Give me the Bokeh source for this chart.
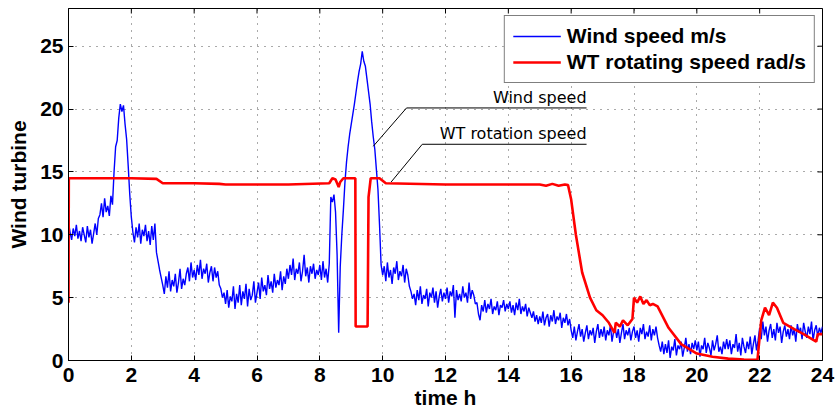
from bokeh.plotting import figure
from bokeh.models import Range1d, Legend, LegendItem, FixedTicker, Label
from bokeh.embed import file_html
from bokeh.resources import INLINE
import numpy as np

# ---------------- data ----------------
# wind speed sampled every 0.05 h, 0 .. 24 h
wind_speed = [
    11.0, 10.2, 9.6, 10.5, 9.9, 10.8, 9.7, 10.3, 9.5, 10.6, 10.0, 9.4, 10.7, 9.8, 10.4, 9.3, 10.1, 10.9, 10.0, 11.3,
    11.6, 12.5, 11.4, 12.9, 11.8, 12.3, 11.5, 13.1, 12.4, 15.0, 17.0, 17.5, 19.3, 20.4, 19.8, 20.3, 18.8, 17.6, 15.5, 13.2,
    11.4, 10.2, 9.4, 10.6, 9.8, 10.9, 9.3, 10.4, 9.9, 10.8, 9.5, 10.3, 9.2, 10.7, 9.6, 10.9, 8.6, 7.9, 7.2, 6.6,
    6.0, 5.3, 6.7, 5.8, 7.1, 5.5, 6.4, 5.9, 6.9, 5.4, 6.2, 7.3, 5.7, 6.5, 6.0, 6.9, 7.4, 6.3, 7.8, 6.6,
    7.2, 6.4, 7.6, 6.8, 8.0, 6.5, 7.3, 6.9, 7.7, 6.2, 7.0, 7.5, 6.3, 7.4, 6.6, 7.1, 6.0, 5.7, 5.0, 5.4,
    4.5, 5.6, 4.2, 5.1, 4.7, 5.9, 4.1, 5.3, 4.6, 6.0, 4.4, 5.5, 4.9, 6.1, 4.3, 5.7, 4.8, 5.2, 6.3, 4.6,
    5.4, 6.2, 4.9, 6.6, 5.5, 6.0, 5.2, 6.8, 5.7, 6.3, 5.4, 6.9, 5.8, 6.4, 6.0, 7.1, 5.6, 6.7, 6.1, 7.3,
    6.5, 7.6, 6.8, 8.1, 6.4, 7.3, 6.9, 7.8, 6.3, 7.1, 8.4, 6.7, 7.4, 6.2, 7.5, 6.9, 7.7, 6.5, 7.2, 6.8,
    7.6, 6.4, 7.9, 6.6, 7.3, 6.2, 7.7, 13.0, 12.6, 13.2, 11.8, 8.4, 2.2, 7.5, 10.0, 12.0, 14.2, 15.8, 17.0, 18.0,
    18.8, 19.6, 20.4, 21.3, 22.2, 23.0, 23.6, 24.6, 23.8, 23.4, 22.4, 21.4, 20.4, 19.0, 17.8, 16.8, 15.2, 13.6, 10.8, 7.6,
    6.8, 7.5, 6.3, 7.8, 6.6, 7.2, 6.1, 7.4, 6.9, 7.9, 6.4, 7.1, 6.7, 7.6, 6.2, 7.3, 6.8, 5.9, 5.5, 4.9,
    5.3, 4.4, 5.6, 4.8, 5.9, 4.5, 5.2, 4.9, 5.7, 4.3, 5.4, 5.0, 5.8, 4.6, 5.5, 4.2, 5.1, 5.7, 4.7, 5.4,
    4.9, 5.8, 4.6, 5.5, 5.1, 6.0, 3.4, 5.6, 4.8, 5.3, 4.7, 5.9, 5.0, 5.4, 4.6, 6.2, 4.9, 5.6, 5.2, 4.5,
    4.6, 3.7, 3.2, 4.4, 3.9, 4.8, 3.8, 4.5, 4.1, 4.9, 3.7, 4.3, 4.0, 4.7, 3.6, 4.4, 4.2, 4.8, 3.9, 4.5,
    4.1, 4.7, 3.8, 4.4, 3.6, 4.6, 4.0, 4.9, 3.7, 4.3, 3.9, 4.5, 3.5, 4.2, 3.8, 3.4, 3.9, 3.1, 3.6, 2.9,
    3.5, 3.0, 3.9, 2.8, 3.4, 3.7, 2.7, 3.6, 3.1, 4.0, 2.9, 3.5, 3.2, 3.8, 2.6, 3.4, 3.0, 3.7, 2.8, 3.3,
    2.4, 1.8, 2.7, 1.6, 2.3, 2.9, 1.9, 2.5, 1.5, 2.2, 2.8, 1.7, 2.4, 2.0, 2.6, 1.4, 2.3, 2.9, 1.8, 2.5,
    1.9, 2.7, 1.6, 2.4, 2.0, 2.8, 1.5, 2.3, 2.6, 1.8, 2.5, 1.4, 2.2, 2.9, 1.7, 2.4, 2.0, 2.6, 1.6, 2.3,
    2.7, 1.8, 2.4, 1.5, 2.6, 2.1, 2.9, 1.7, 2.3, 1.9, 2.8, 1.6, 2.5, 2.0, 2.7, 1.8, 1.2, 0.7, 1.5, 0.5,
    1.3, 0.6, 1.6, 0.2, 1.1, 0.8, 1.7, 0.4, 1.2, 0.9, 1.5, 0.3, 1.0, 1.8, 0.7, 1.3, 0.5, 1.4, 0.9, 1.6,
    0.8, 1.5, 0.3, 1.2, 0.9, 1.8, 0.6, 1.4, 1.0, 0.4, 1.6, 0.8, 1.3, 2.0, 0.7, 1.1, 0.5, 1.5, 0.9, 1.7,
    0.9, 1.6, 0.5, 1.3, 1.0, 2.1, 0.7, 1.4, 0.4, 1.8, 1.1, 0.6, 1.5, 0.9, 1.9, 0.5, 1.3, 2.0, 0.8, 1.6,
    2.6, 1.7, 3.1, 2.0, 2.7, 1.5, 2.4, 2.9, 1.8, 2.5, 1.6, 3.0, 2.2, 2.7, 1.4, 2.3, 2.8, 1.9, 2.5, 1.7,
    2.8, 2.0, 2.5, 1.5, 2.9, 2.2, 2.6, 1.7, 3.0, 2.3, 1.8, 2.7, 2.1, 3.1, 1.6, 2.4, 2.8, 1.9, 2.6, 2.2,
    2.7,
]
wind_hours = np.arange(len(wind_speed)) * 0.05

rot_hours = [0.0, 0.01, 1.0, 2.0, 2.8, 3.0, 4.0, 4.8, 5.0, 6.0, 7.0, 8.3, 8.4, 8.5,
             8.6, 8.65, 8.75, 9.13, 9.14, 9.52, 9.55, 9.62, 9.9, 10.1, 12.0, 15.0,
             15.2, 15.4, 15.6, 15.8, 15.9, 16.0, 16.15, 16.35, 16.6, 16.8,
             17.0, 17.2, 17.38, 17.42, 17.55, 17.65, 17.8, 17.95, 18.0, 18.1, 18.2,
             18.3, 18.4, 18.5, 18.6, 18.75, 19.1, 19.5, 20.0, 20.5, 21.0, 21.5, 21.93,
             22.05, 22.17, 22.3, 22.42, 22.55, 22.75, 23.1, 23.4, 23.8, 23.85, 24.0]
rot_speed = [4.6, 14.5, 14.5, 14.5, 14.45, 14.1, 14.1, 14.05, 14.0, 14.0, 14.0, 14.1,
             14.5, 14.4, 13.8, 14.2, 14.5, 14.5, 2.7, 2.7, 13.0, 14.5, 14.5, 14.1,
             14.0, 14.0, 13.9, 14.05, 13.9, 14.0, 13.95, 12.8, 10.0, 7.0, 5.0,
             4.0, 3.6, 3.0, 2.2, 3.0, 2.7, 3.2, 2.8, 3.3, 5.0, 4.6, 5.1, 4.5, 4.8,
             4.4, 4.5, 4.3, 2.6, 1.3, 0.55, 0.3, 0.15, 0.08, 0.05, 3.2, 4.2, 3.6,
             4.6, 4.2, 3.0, 2.5, 2.1, 1.5, 2.1, 2.1]

x_ticks = [0, 2, 4, 6, 8, 10, 12, 14, 16, 18, 20, 22, 24]
y_ticks = [0, 5, 10, 15, 20, 25]
x_max, y_max = 24, 28

# annotation callouts
ann_labels = ["Wind speed", "WT rotation speed"]
ann_x = [[9.70, 10.76, 16.49], [10.27, 11.26, 16.49]]
ann_y = [[17.04, 20.09, 20.09], [14.2, 17.2, 17.2]]
ann_text_y = [20.95, 18.03]

series_labels = ["Wind speed m/s", "WT rotating speed rad/s"]

# ---------------- figure ----------------
p = figure(width=835, height=412, x_range=Range1d(0, x_max), y_range=Range1d(0, y_max),
           output_backend="svg", toolbar_location=None,
           min_border_left=68, min_border_right=13, min_border_top=8, min_border_bottom=52,
           background_fill_color="white", border_fill_color="white")
p.outline_line_color = "black"
p.outline_line_width = 1

bold = "Liberation Sans"
for ax in (p.xaxis[0], p.yaxis[0]):
    ax.major_label_text_font = bold
    ax.major_label_text_font_style = "bold"
    ax.major_label_text_font_size = "21px"
    ax.major_label_text_color = "black"
    ax.axis_label_text_font = bold
    ax.axis_label_text_font_style = "bold"
    ax.axis_label_text_font_size = "21px"
    ax.axis_label_text_color = "black"
    ax.major_tick_in = 5
    ax.major_tick_out = 0
    ax.minor_tick_line_color = None
    ax.axis_line_color = "black"
    ax.major_tick_line_color = "black"

p.xaxis[0].ticker = FixedTicker(ticks=x_ticks)
p.yaxis[0].ticker = FixedTicker(ticks=y_ticks)
p.xaxis[0].axis_label = "time h"
p.yaxis[0].axis_label = "Wind turbine"
p.xaxis[0].major_label_standoff = 7
p.xaxis[0].axis_label_standoff = 1
p.yaxis[0].major_label_standoff = 5
p.yaxis[0].axis_label_standoff = 7

p.xgrid.ticker = FixedTicker(ticks=x_ticks)
p.ygrid.ticker = FixedTicker(ticks=y_ticks)
for g in (p.xgrid[0], p.ygrid[0]):
    g.grid_line_color = "#555555"
    g.grid_line_dash = "1 6"
    g.grid_line_width = 1

# inward tick marks on the top and right frame edges (clipped to the frame)
p.scatter(x_ticks, [y_max] * len(x_ticks), marker="dash", size=10, angle=np.pi / 2,
          line_color="black", line_width=1)
p.scatter([x_max] * len(y_ticks), y_ticks, marker="dash", size=10,
          line_color="black", line_width=1)

r_wind = p.line(wind_hours, wind_speed, line_color="#0000ff", line_width=1.4)
r_rot = p.line(rot_hours, rot_speed, line_color="#ff0000", line_width=2.6)

for lab, xs, ys, ty in zip(ann_labels, ann_x, ann_y, ann_text_y):
    p.line(xs, ys, line_color="black", line_width=1)
    p.add_layout(Label(x=xs[-1], y=ty, text=lab, text_align="right",
                       text_baseline="alphabetic", text_font="DejaVu Sans",
                       text_font_size="16px", text_color="black"))

legend = Legend(items=[LegendItem(label=series_labels[0], renderers=[r_wind]),
                       LegendItem(label=series_labels[1], renderers=[r_rot])],
                location="top_right", margin=7, padding=8, spacing=2,
                glyph_width=48, glyph_height=22, label_height=22, label_standoff=6,
                label_text_font=bold, label_text_font_style="bold",
                label_text_font_size="21px", label_text_color="black",
                border_line_color="black", border_line_width=1,
                background_fill_color="white", background_fill_alpha=1)
p.add_layout(legend)

open("out.html", "w").write(file_html(p, INLINE))
